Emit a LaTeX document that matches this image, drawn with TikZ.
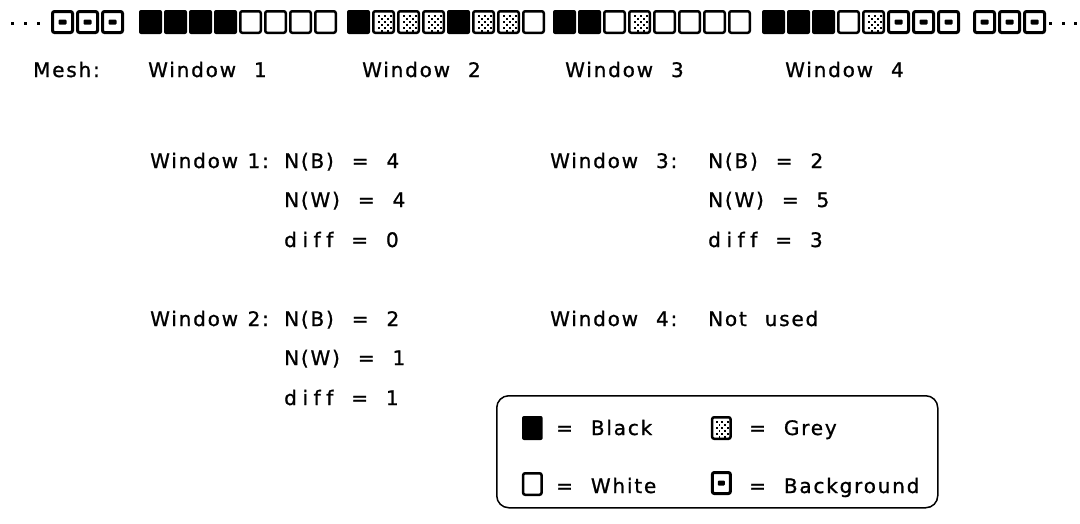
\documentclass[tikz,border=0pt]{standalone}
\usepackage{fontspec}
\setmainfont{DejaVu Sans}[LetterSpace=9, WordSpace=2.2, FakeBold=1, Ligatures=NoCommon]
\begin{document}
\begin{tikzpicture}[x=1pt,y=-1pt,
  txt/.style={anchor=base west, inner sep=0pt, font=\fontsize{20}{24}\selectfont},
  blk/.pic={\fill[rounded corners=2pt] (0,0) rectangle (23,24);},
  wht/.pic={\draw[line width=2.5pt, rounded corners=2pt] (1.25,1.25) rectangle (21.75,22.75);},
  gry/.pic={\draw[line width=2.5pt, rounded corners=2pt] (1.25,1.25) rectangle (21.75,22.75);
    \foreach \i in {0,...,4}{\foreach \j in {0,...,5}{
      \pgfmathtruncatemacro{\chk}{mod(\i+\j,2)}
      \ifnum\chk=0 \fill (5.5+3*\i,4.5+3*\j) rectangle ++(2,2);\fi}}},
  bgs/.pic={\draw[line width=3pt, rounded corners=2pt] (1.5,1.5) rectangle (21.5,22.5);
    \fill[rounded corners=1pt] (7.5,9.5) rectangle (15.5,14.5);}
]
\newcommand\wide[1]{{\addfontfeature{LetterSpace=28}#1}}
\newcommand\tightsp{\spaceskip=9.5pt\relax}
\useasboundingbox (0,0) rectangle (1080,523);
% leading / trailing dots
\foreach \x in {12,25,38}{\fill (\x-1.5,21.5) rectangle ++(3,3);}
\foreach \x in {1050,1063,1075}{\fill (\x-1.5,21.5) rectangle ++(3,3);}
% background squares
\foreach \x in {51,76,101,973,998,1023}{\pic at (\x,10) {bgs};}
% Window 1: B B B B W W W W
\foreach \t [count=\k from 0] in {blk,blk,blk,blk,wht,wht,wht,wht}{\pic at (139+25*\k,10) {\t};}
% Window 2: B G G G B G G W
\foreach \t [count=\k from 0] in {blk,gry,gry,gry,blk,gry,gry,wht}{\pic at (347+25*\k,10) {\t};}
% Window 3: B B W G W W W W
\foreach \t [count=\k from 0] in {blk,blk,wht,gry,wht,wht,wht,wht}{\pic at (553+25*\k,10) {\t};}
% Window 4: B B B W G bg bg bg
\foreach \t [count=\k from 0] in {blk,blk,blk,wht,gry,bgs,bgs,bgs}{\pic at (762+25*\k,10) {\t};}
% header
\node[txt] (mesh) at (33,77) {Mesh:};
\node[txt] (h1) at (148,77) {Window 1};
\node[txt] (h2) at (362,77) {Window 2};
\node[txt] (h3) at (565,77) {Window 3};
\node[txt] (h4) at (785,77) {Window 4};
% window 1
\node[txt] (w1) at (150,168) {\tightsp Window 1:};
\node[txt] (w1b) at (284,168) {N(B) = 4};
\node[txt] (w1w) at (284,207) {N(W) = 4};
\node[txt] (w1d) at (284,247) {\wide{diff} = 0};
% window 3
\node[txt] (w3) at (550,168) {Window 3:};
\node[txt] (w3b) at (708,168) {N(B) = 2};
\node[txt] (w3w) at (708,207) {N(W) = 5};
\node[txt] (w3d) at (708,247) {\wide{diff} = 3};
% window 2
\node[txt] (w2) at (150,326) {\tightsp Window 2:};
\node[txt] (w2b) at (284,326) {N(B) = 2};
\node[txt] (w2w) at (284,365) {N(W) = 1};
\node[txt] (w2d) at (284,405) {\wide{diff} = 1};
% window 4
\node[txt] (w4) at (550,326) {Window 4:};
\node[txt] (w4n) at (708,326) {Not used};
% legend
\node[draw, line width=1.5pt, rounded corners=12pt, minimum width=441pt, minimum height=112pt, anchor=north west, inner sep=0pt] (legend) at (496,395) {};
\pic[xscale=0.9] at (522,416) {blk};
\pic[xscale=0.9] at (522,472) {wht};
\pic[xscale=0.9] at (711,416) {gry};
\pic[xscale=0.9] at (711,471) {bgs};
\node[txt] (lb) at (556,435) {= Black};
\node[txt] (lg) at (749,435) {= Grey};
\node[txt] (lw) at (556,493) {= White};
\node[txt] (lbg) at (749,493) {= Background};
\end{tikzpicture}
\end{document}
